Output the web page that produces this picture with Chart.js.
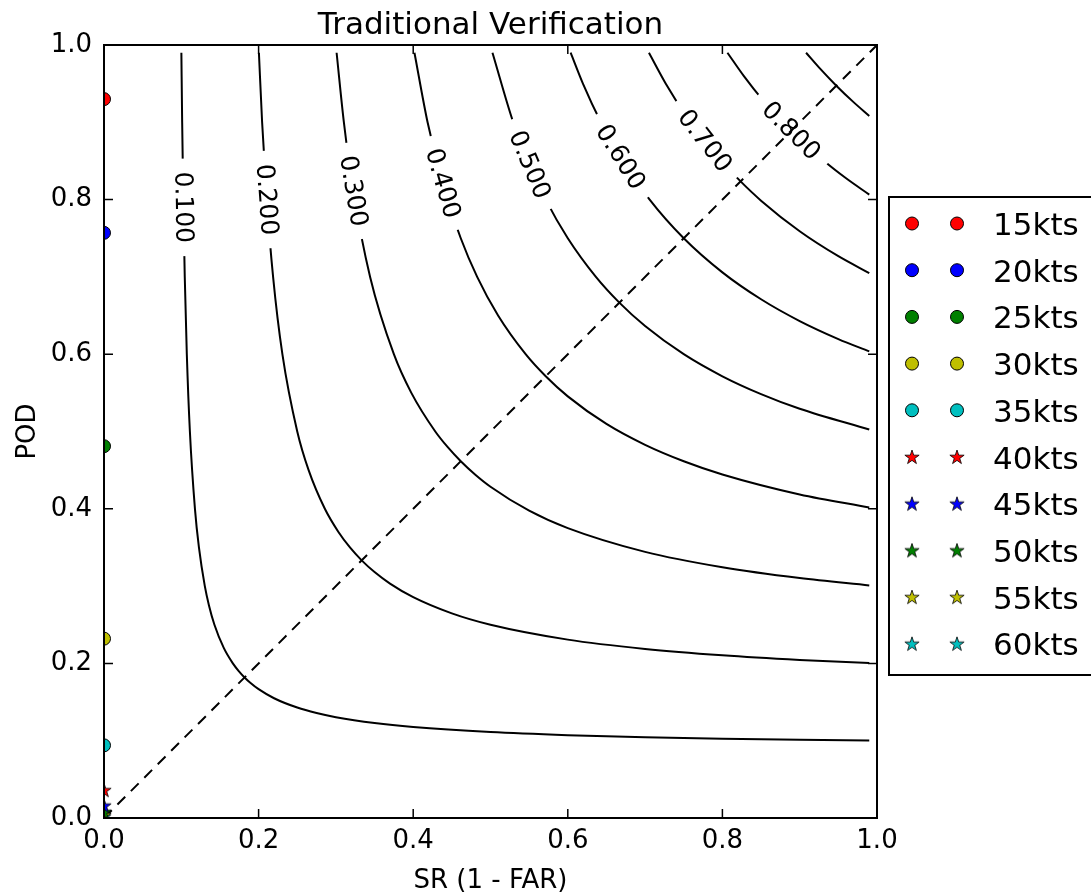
<!DOCTYPE html>
<html>
<head>
<meta charset="utf-8">
<title>Traditional Verification</title>
<style>
  body { margin: 0; background: #ffffff; }
  canvas { display: block; }
</style>
</head>
<body>
<canvas id="perfChart" width="1091" height="896"></canvas>
<script src="https://cdn.jsdelivr.net/npm/chart.js"></script>
<script>
// CSI contours as [SR, POD] pairs
const csi100 = [[0.1001, 0.99], [0.10112, 0.9], [0.10273, 0.79], [0.10448, 0.7], [0.10714, 0.6], [0.11111, 0.5],
  [0.11765, 0.4], [0.12281, 0.35], [0.13043, 0.3], [0.1358, 0.275], [0.14286, 0.25], [0.15493, 0.22],
  [0.16667, 0.2], [0.17431, 0.19], [0.18182, 0.18182], [0.19, 0.17431], [0.2, 0.16667], [0.22, 0.15493],
  [0.25, 0.14286], [0.275, 0.1358], [0.3, 0.13043], [0.35, 0.12281], [0.4, 0.11765], [0.5, 0.11111],
  [0.6, 0.10714], [0.7, 0.10448], [0.8, 0.10256], [0.9, 0.10112], [0.99, 0.1001]];
const csi200 = [[0.2004, 0.99], [0.20455, 0.9], [0.21053, 0.8], [0.21875, 0.7], [0.23077, 0.6], [0.25, 0.5],
  [0.26471, 0.45], [0.28571, 0.4], [0.30328, 0.37], [0.31818, 0.35], [0.33333, 0.33333], [0.35, 0.31818],
  [0.37, 0.30328], [0.4, 0.28571], [0.45, 0.26471], [0.5, 0.25], [0.6, 0.23077], [0.7, 0.21875],
  [0.8, 0.21053], [0.9, 0.20455], [0.99, 0.2004]];
const csi300 = [[0.30091, 0.99], [0.31034, 0.9], [0.32255, 0.811], [0.34426, 0.7], [0.375, 0.6], [0.39759, 0.55],
  [0.42857, 0.5], [0.44444, 0.48], [0.46154, 0.46154], [0.48, 0.44444], [0.5, 0.42857], [0.55, 0.39759],
  [0.6, 0.375], [0.7, 0.34426], [0.8, 0.32432], [0.9, 0.31034], [0.99, 0.30091]];
const csi400 = [[0.40162, 0.99], [0.4186, 0.9], [0.43822, 0.821], [0.46154, 0.75], [0.48276, 0.7], [0.5098, 0.65],
  [0.54545, 0.6], [0.57143, 0.57143], [0.6, 0.54545], [0.65, 0.5098], [0.7, 0.48276], [0.75, 0.46154],
  [0.8, 0.44444], [0.9, 0.4186], [0.99, 0.40162]];
const csi500 = [[0.50254, 0.99], [0.52941, 0.9], [0.55049, 0.845], [0.57143, 0.8], [0.6, 0.75], [0.63636, 0.7],
  [0.66667, 0.66667], [0.7, 0.63636], [0.75, 0.6], [0.8, 0.57143], [0.85, 0.54839], [0.9, 0.52941],
  [0.99, 0.50254]];
const csi600 = [[0.60366, 0.99], [0.61957, 0.95], [0.64286, 0.9], [0.66797, 0.855], [0.70588, 0.8], [0.75, 0.75],
  [0.8, 0.70588], [0.85, 0.67105], [0.9, 0.64286], [0.95, 0.61957], [0.99, 0.60366]];
const csi700 = [[0.70499, 0.99], [0.72678, 0.95], [0.75207, 0.91], [0.77699, 0.876], [0.79866, 0.85],
  [0.82353, 0.82353], [0.85, 0.79866], [0.9, 0.75904], [0.95, 0.72678], [0.99, 0.70499]];
const csi800 = [[0.80652, 0.99], [0.82759, 0.96], [0.85126, 0.93], [0.88889, 0.88889], [0.93, 0.85126],
  [0.96, 0.82759], [0.99, 0.80652]];
const csi900 = [[0.90826, 0.99], [0.92577, 0.97], [0.94737, 0.94737], [0.97, 0.92577], [0.99, 0.90826]];

const contours = [csi100, csi200, csi300, csi400, csi500, csi600, csi700, csi800, csi900];
const contourLabels = ['0.100', '0.200', '0.300', '0.400', '0.500', '0.600', '0.700', '0.800', null];

// 1:1 bias line
const diagonal = [0, 1];

// wind thresholds, all at SR = 0
const windLabels = ['15kts', '20kts', '25kts', '30kts', '35kts', '40kts', '45kts', '50kts', '55kts', '60kts'];
const windSR = [0, 0, 0, 0, 0, 0, 0, 0, 0, 0];
const windPOD = [0.93, 0.757, 0.481, 0.232, 0.094, 0.036, 0.016, 0.008, 0.004, 0.002];

const markerColors = ['#ff0000', '#0000ff', '#008000', '#bfbf00', '#00bfbf'];
const FONT = "'DejaVu Sans', sans-serif";

function starImage(color) {
  const c = document.createElement('canvas');
  c.width = 18;
  c.height = 18;
  const g = c.getContext('2d');
  g.beginPath();
  for (let k = 0; k < 10; k++) {
    const r = k % 2 === 0 ? 7.5 : 2.9;
    const a = -Math.PI / 2 + k * Math.PI / 5;
    const px = 9 + r * Math.cos(a), py = 9.5 + r * Math.sin(a);
    if (k === 0) g.moveTo(px, py); else g.lineTo(px, py);
  }
  g.closePath();
  g.fillStyle = color;
  g.fill();
  g.lineWidth = 0.8;
  g.strokeStyle = '#000';
  g.stroke();
  return c;
}

const stars = markerColors.map(starImage);

const datasets = [];
contours.forEach((pts, i) => {
  datasets.push({
    data: pts.map(p => ({ x: p[0], y: p[1] })),
    showLine: true,
    borderColor: '#000',
    borderWidth: 2,
    pointRadius: 0,
    cubicInterpolationMode: 'monotone',
    order: 3,
    clip: 0
  });
});
datasets.push({
  data: diagonal.map(v => ({ x: v, y: v })),
  showLine: true,
  borderColor: '#000',
  borderWidth: 2,
  borderDash: [11, 8],
  pointRadius: 0,
  order: 2,
  clip: 0
});
windLabels.forEach((lab, i) => {
  const col = markerColors[i % 5];
  datasets.push({
    label: lab,
    data: [{ x: windSR[i], y: windPOD[i] }],
    pointStyle: i < 5 ? 'circle' : stars[i % 5],
    pointRadius: 6.5,
    backgroundColor: col,
    borderColor: '#000',
    borderWidth: 1,
    showLine: false,
    order: 1,
    clip: 0
  });
});

// where the contour labels sit (POD along each curve)
const labelPod = [0.79, 0.8, 0.811, 0.821, 0.845, 0.855, 0.876, 0.889];

const decorPlugin = {
  id: 'decor',
  afterDatasetDraw(chart, args) {
    if (args.index !== 0) return;
    const ctx = chart.ctx;
    ctx.save();
    ctx.font = '25px ' + FONT;
    ctx.textAlign = 'center';
    ctx.textBaseline = 'middle';
    contourLabels.forEach((txt, i) => {
      if (!txt) return;
      const meta = chart.getDatasetMeta(i);
      const raw = chart.data.datasets[i].data;
      let best = 1;
      raw.forEach((d, j) => {
        if (j > 0 && j < raw.length - 1 && Math.abs(d.y - labelPod[i]) < Math.abs(raw[best].y - labelPod[i])) best = j;
      });
      const p = meta.data[best], a = meta.data[best - 1], b = meta.data[best + 1];
      const ang = Math.atan2(b.y - a.y, b.x - a.x);
      const w = ctx.measureText(txt).width;
      ctx.save();
      ctx.translate(p.x, p.y);
      ctx.rotate(ang);
      ctx.fillStyle = '#ffffff';
      ctx.fillRect(-w / 2 - 13, -8, w + 26, 16);
      ctx.fillStyle = '#000';
      ctx.fillText(txt, 0, 1);
      ctx.restore();
    });
    ctx.restore();
  },
  afterDraw(chart) {
    const ctx = chart.ctx;
    const area = chart.chartArea;
    const xs = chart.scales.x, ys = chart.scales.y;
    ctx.save();
    // frame
    ctx.strokeStyle = '#000';
    ctx.lineWidth = 2;
    ctx.strokeRect(area.left, area.top, area.right - area.left, area.bottom - area.top);
    // inward ticks on all sides
    ctx.lineWidth = 1.5;
    ctx.beginPath();
    xs.ticks.forEach(t => {
      const px = xs.getPixelForValue(t.value);
      ctx.moveTo(px, area.bottom); ctx.lineTo(px, area.bottom - 9);
      ctx.moveTo(px, area.top); ctx.lineTo(px, area.top + 9);
    });
    ys.ticks.forEach(t => {
      const py = ys.getPixelForValue(t.value);
      ctx.moveTo(area.left, py); ctx.lineTo(area.left + 9, py);
      ctx.moveTo(area.right, py); ctx.lineTo(area.right - 9, py);
    });
    ctx.stroke();

    // titles
    const cx = (area.left + area.right) / 2;
    ctx.fillStyle = '#000';
    ctx.textAlign = 'center';
    ctx.textBaseline = 'alphabetic';
    ctx.font = '31px ' + FONT;
    ctx.fillText('Traditional Verification', cx, 34);
    ctx.font = '26px ' + FONT;
    ctx.fillText('SR (1 - FAR)', cx, 888);
    ctx.save();
    ctx.translate(35, (area.top + area.bottom) / 2);
    ctx.rotate(-Math.PI / 2);
    ctx.fillText('POD', 0, 0);
    ctx.restore();

    // legend with two markers per entry
    ctx.fillStyle = '#ffffff';
    ctx.fillRect(889, 197, 220, 478);
    ctx.lineWidth = 2;
    ctx.strokeStyle = '#000';
    ctx.strokeRect(889, 197, 220, 478);
    ctx.font = '31px ' + FONT;
    ctx.textAlign = 'left';
    windLabels.forEach((lab, i) => {
      const y = 223.5 + i * 46.7;
      const col = markerColors[i % 5];
      [912, 957].forEach(mx => {
        if (i < 5) {
          ctx.beginPath();
          ctx.arc(mx, y, 6.5, 0, Math.PI * 2);
          ctx.fillStyle = col;
          ctx.fill();
          ctx.lineWidth = 1;
          ctx.strokeStyle = '#000';
          ctx.stroke();
        } else {
          ctx.drawImage(stars[i % 5], mx - 9, y - 9);
        }
      });
      ctx.fillStyle = '#000';
      ctx.fillText(lab, 993, y + 11.5);
    });
    ctx.restore();
  }
};

const tickFont = { family: FONT, size: 26 };

new Chart(document.getElementById('perfChart'), {
  type: 'scatter',
  data: { datasets: datasets },
  options: {
    responsive: false,
    animation: false,
    events: [],
    layout: { padding: { left: 0, top: 45, right: 214, bottom: 0 } },
    plugins: { legend: { display: false }, tooltip: { enabled: false }, title: { display: false } },
    scales: {
      x: {
        type: 'linear', min: 0, max: 1,
        ticks: { stepSize: 0.2, padding: 8, color: '#000', font: tickFont, callback: v => v.toFixed(1) },
        grid: { display: false, drawTicks: false },
        border: { display: false },
        afterFit: s => { s.height = 78; }
      },
      y: {
        type: 'linear', min: 0, max: 1,
        ticks: { stepSize: 0.2, padding: 12, color: '#000', font: tickFont, callback: v => v.toFixed(1) },
        grid: { display: false, drawTicks: false },
        border: { display: false },
        afterFit: s => { s.width = 104; }
      }
    }
  },
  plugins: [decorPlugin]
});
</script>
</body>
</html>
